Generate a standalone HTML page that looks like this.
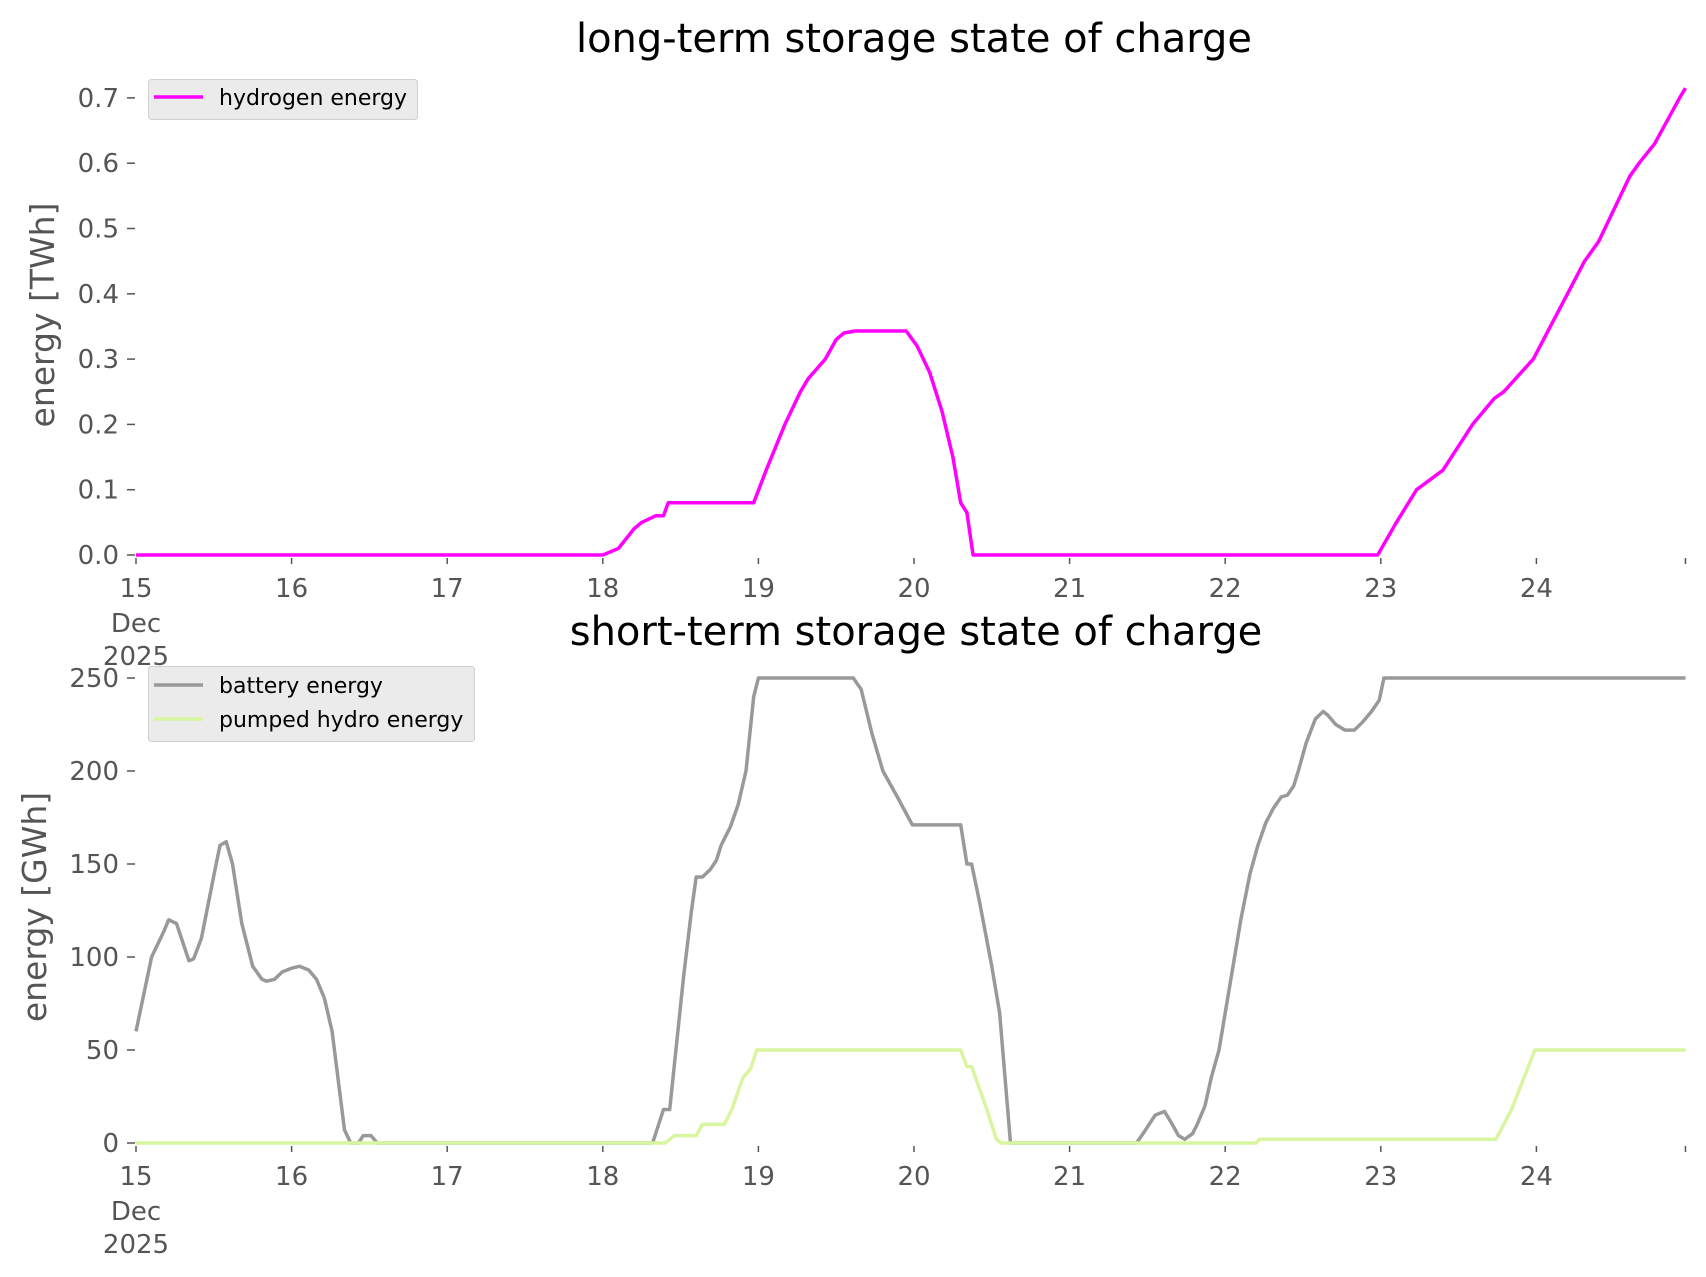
<!DOCTYPE html>
<html><head><meta charset="utf-8">
<style>
html,body{margin:0;padding:0;background:#fff;}
svg{display:block;font-family:"DejaVu Sans","Liberation Sans",sans-serif;}
</style></head>
<body>
<svg id="chart" width="1706" height="1277" viewBox="0 0 1706 1277">
<rect width="1706" height="1277" fill="#fff"/>
</svg>
<script>
const dayTicks = [15,16,17,18,19,20,21,22,23,24];
const h2Ticks = [0.0,0.1,0.2,0.3,0.4,0.5,0.6,0.7];
const gwhTicks = [0,50,100,150,200,250];
const h2Days = [15,18.0,18.1,18.2,18.25,18.34,18.39,18.42,18.97,19.05,19.17,19.27,19.32,19.43,19.5,19.55,19.62,19.95,20.02,20.1,20.18,20.25,20.3,20.34,20.38,22.98,23.1,23.23,23.4,23.59,23.73,23.79,23.98,24.2,24.31,24.4,24.6,24.66,24.76,24.92,24.958];
const h2Vals = [0,0,0.01,0.04,0.05,0.06,0.06,0.08,0.08,0.13,0.2,0.25,0.27,0.3,0.33,0.34,0.343,0.343,0.32,0.28,0.22,0.15,0.08,0.065,0,0,0.05,0.1,0.13,0.2,0.24,0.25,0.3,0.4,0.45,0.48,0.58,0.6,0.63,0.7,0.715];
const batDays = [15,15.1,15.18,15.21,15.26,15.3,15.34,15.37,15.42,15.51,15.54,15.58,15.62,15.68,15.75,15.81,15.84,15.89,15.94,16.0,16.05,16.11,16.16,16.21,16.26,16.34,16.38,16.43,16.46,16.51,16.55,18.32,18.39,18.43,18.52,18.57,18.6,18.64,18.69,18.73,18.76,18.82,18.87,18.92,18.97,19.0,19.61,19.66,19.73,19.8,19.9,19.99,20.3,20.34,20.37,20.42,20.5,20.55,20.62,21.43,21.48,21.55,21.61,21.66,21.7,21.74,21.79,21.82,21.87,21.91,21.96,22.03,22.1,22.16,22.21,22.26,22.31,22.36,22.4,22.44,22.47,22.52,22.58,22.63,22.66,22.71,22.77,22.83,22.88,22.94,22.99,23.02,24.958];
const batVals = [60,100,114,120,118,108,98,99,110,148,160,162,150,118,95,88,87,88,92,94,95,93,88,78,60,7,0,0,4,4,0,0,18,18,90,125,143,143,147,152,160,170,182,200,240,250,250,244,220,200,185,171,171,150,150,130,95,70,0,0,6,15,17,10,4,2,5,10,20,35,50,85,120,145,160,172,180,186,187,192,200,215,228,232,230,225,222,222,226,232,238,250,250];
const phDays = [15,18.4,18.46,18.6,18.64,18.78,18.83,18.9,18.95,18.99,20.3,20.34,20.37,20.46,20.53,20.56,22.2,22.22,23.74,23.79,23.84,23.99,24.958];
const phVals = [0,0,4,4,10,10,18,35,40,50,50,41,41,20,2,0,0,2,2,10,18,50,50];

const NS='http://www.w3.org/2000/svg';
const svg=document.getElementById('chart');
const X0=136, DW=155.6, XEND=24.958;
const xs=d=>X0+(d-15)*DW;
const yTop=v=>555-v*653;
const yBot=v=>1143-v*1.86;
function el(tag,attrs,parent){const e=document.createElementNS(NS,tag);for(const k in attrs)e.setAttribute(k,attrs[k]);(parent||svg).appendChild(e);return e;}
function txt(s,attrs){const t=el('text',attrs);t.textContent=s;return t;}

function axes(yf,ticks,fmt,y0,prefix){
  for(const t of ticks){
    const y=yf(t);
    const tk=el('line',{x1:127,x2:135,y1:y,y2:y,stroke:'#555','stroke-width':1.5});
    
    
    const l=txt(fmt(t),{x:119,y:y+9,'text-anchor':'end','font-size':26,fill:'#555'});
    
    
  }
  for(const d of dayTicks){
    const x=xs(d);
    const tk=el('line',{x1:x,x2:x,y1:y0+3,y2:y0+9,stroke:'#555','stroke-width':1.5});
    
    
    const l=txt(String(d),{x:x,y:y0+42,'text-anchor':'middle','font-size':26,fill:'#555'});
    
    
  }
  const e=el('line',{x1:xs(XEND),x2:xs(XEND),y1:y0+3,y2:y0+9,stroke:'#555','stroke-width':1.5});
  
  
  const dec=txt('Dec',{x:xs(15),y:y0+77,'text-anchor':'middle','font-size':26,fill:'#555'});
  
  
  const yr=txt('2025',{x:xs(15),y:y0+110,'text-anchor':'middle','font-size':26,fill:'#555'});
  
  
}
function series(days,vals,yf,color,name){
  const pts=days.map((d,i)=>xs(d).toFixed(1)+','+yf(vals[i]).toFixed(1)).join(' ');
  const p=el('polyline',{points:pts,fill:'none',stroke:color,'stroke-width':3.5,'stroke-linejoin':'round'});
  
  
}

// top chart
axes(yTop,h2Ticks,v=>v.toFixed(1),555,'top');
series(h2Days,h2Vals,yTop,'#ff00ff','hydrogen-energy-line');
const t1=txt('long-term storage state of charge',{x:914,y:52,'text-anchor':'middle','font-size':40,fill:'#000'});


const yl1=txt('energy [TWh]',{x:0,y:0,'text-anchor':'middle','font-size':33,fill:'#555',transform:'translate(54,315) rotate(-90)'});


const lg1=el('g',{});


el('rect',{x:148.5,y:79.5,width:269,height:40,rx:3,fill:'#ebebeb',stroke:'#d0d0d0'},lg1);
el('line',{x1:154,x2:203,y1:97,y2:97,stroke:'#ff00ff','stroke-width':3.5},lg1);
const le1=el('text',{x:219,y:105,'font-size':22,fill:'#000'},lg1);le1.textContent='hydrogen energy';



// bottom chart
axes(yBot,gwhTicks,v=>String(v),1143,'bottom');
series(batDays,batVals,yBot,'#999999','battery-energy-line');
series(phDays,phVals,yBot,'#d8f5a0','pumped-hydro-energy-line');
const t2=txt('short-term storage state of charge',{x:916,y:645,'text-anchor':'middle','font-size':40,fill:'#000'});


const yl2=txt('energy [GWh]',{x:0,y:0,'text-anchor':'middle','font-size':33,fill:'#555',transform:'translate(46,907) rotate(-90)'});


const lg2=el('g',{});


el('rect',{x:148.5,y:666.5,width:326,height:75,rx:3,fill:'#ebebeb',stroke:'#d0d0d0'},lg2);
el('line',{x1:154,x2:203,y1:685,y2:685,stroke:'#999999','stroke-width':3.5},lg2);
const le2=el('text',{x:219,y:693,'font-size':22,fill:'#000'},lg2);le2.textContent='battery energy';


el('line',{x1:154,x2:203,y1:719,y2:719,stroke:'#d8f5a0','stroke-width':3.5},lg2);
const le3=el('text',{x:219,y:727,'font-size':22,fill:'#000'},lg2);le3.textContent='pumped hydro energy';


</script>
</body></html>
